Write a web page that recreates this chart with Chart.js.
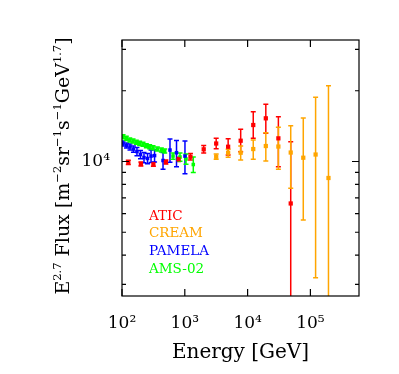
<!DOCTYPE html>
<html>
<head>
<meta charset="utf-8">
<script src="https://cdn.jsdelivr.net/npm/chart.js@4/dist/chart.umd.min.js"></script>
<style>
  html, body { margin: 0; padding: 0; background: #fff; }
  canvas { display: block; }
</style>
</head>
<body>
<canvas id="fluxChart" width="399" height="374"></canvas>
<script>
// energies in GeV, flux as E^2.7 * F, error bars as lower / upper bounds
const aticE  = [126, 200, 316, 500, 794, 1230, 2000, 3160, 4900, 7760, 12300, 19500, 30900, 48600];
const aticF  = [9920, 9760, 9740, 9950, 10220, 10480, 11270, 11930, 11560, 12260, 14300, 15270, 12550, 6630];
const aticLo = [9720, 9570, 9550, 9750, 10000, 10140, 10860, 11330, 10660, 11010, 12550, 13180, 9500, 1000];
const aticHi = [10120, 9960, 9940, 10150, 10440, 10830, 11690, 12560, 12500, 13710, 16290, 17520, 15510, 12140];

const creamE  = [3160, 4900, 7760, 12300, 19500, 30900, 48600, 77000, 121000, 194000];
const creamF  = [10480, 10900, 10900, 11300, 11640, 11580, 10920, 10380, 10710, 8510];
const creamLo = [10220, 10420, 10150, 10220, 10050, 9260, 7690, 5640, 3200, 1000];
const creamHi = [10760, 11270, 11640, 12350, 13260, 13980, 14200, 15310, 18760, 21020];

const pamelaE   = [104, 118, 134, 152, 173, 197, 224, 255, 290, 330, 450, 581, 738, 1006];
const pamelaF   = [11930, 11700, 11530, 11300, 11030, 10710, 10400, 10300, 10550, 10600, 10100, 11190, 10900, 10550];
const pamelaErr = [296, 290, 344, 337, 441, 428, 522, 517, 638, 641, 823, 1272, 1402, 1671];

const amsE   = [104, 117, 133, 150, 169, 191, 216, 244, 276, 312, 365, 423, 479, 649, 839, 1045, 1365];
const amsF   = [12750, 12550, 12350, 12230, 12070, 11950, 11840, 11670, 11560, 11450, 11300, 11190, 11080, 10550, 10450, 10250, 9710];
const amsErr = [250, 250, 245, 245, 240, 240, 235, 235, 230, 230, 225, 225, 220, 314, 418, 515, 738];

const xTickValues = [100, 1000, 10000, 100000];
const xTickLabels = ['10²', '10³', '10⁴', '10⁵'];
const yMajorTicks = [10000];
const yTickLabels = ['10⁴'];
const yMinorTicks = [3000, 4000, 5000, 6000, 7000, 8000, 9000, 20000, 30000];

function withBounds(e, f, lo, hi) {
    return e.map((v, i) => ({ x: v, y: f[i], lo: lo[i], hi: hi[i] }));
}
function withErr(e, f, err) {
    return e.map((v, i) => ({ x: v, y: f[i], lo: f[i] - err[i], hi: f[i] + err[i] }));
}

const serif = 'DejaVu Serif';

// vertical error bars with small caps, drawn under the markers
const errorBars = {
    id: 'errorBars',
    beforeDatasetsDraw(chart) {
        const { ctx, chartArea: a, scales: { x, y } } = chart;
        ctx.save();
        ctx.beginPath();
        ctx.rect(a.left, a.top, a.width, a.height);
        ctx.clip();
        chart.data.datasets.forEach(ds => {
            ctx.strokeStyle = ds.borderColor;
            ctx.lineWidth = 1.5;
            ds.data.forEach(p => {
                const px = x.getPixelForValue(p.x);
                const top = y.getPixelForValue(p.hi);
                const bot = y.getPixelForValue(p.lo);
                ctx.beginPath();
                ctx.moveTo(px, top); ctx.lineTo(px, bot);
                ctx.moveTo(px - 2.5, top); ctx.lineTo(px + 2.5, top);
                ctx.moveTo(px - 2.5, bot); ctx.lineTo(px + 2.5, bot);
                ctx.stroke();
            });
        });
        ctx.restore();
    }
};

// box, inward ticks, legend text and the y title with superscripts
const frame = {
    id: 'frame',
    afterDraw(chart) {
        const { ctx, chartArea: a, scales: { x, y } } = chart;
        ctx.save();
        ctx.strokeStyle = '#000';
        ctx.lineWidth = 1.2;
        ctx.strokeRect(a.left, a.top, a.width, a.height);
        ctx.beginPath();
        xTickValues.forEach(v => {
            const p = x.getPixelForValue(v);
            ctx.moveTo(p, a.bottom); ctx.lineTo(p, a.bottom - 7);
            ctx.moveTo(p, a.top); ctx.lineTo(p, a.top + 7);
        });
        yMajorTicks.forEach(v => {
            const p = y.getPixelForValue(v);
            ctx.moveTo(a.left, p); ctx.lineTo(a.left + 7, p);
            ctx.moveTo(a.right, p); ctx.lineTo(a.right - 7, p);
        });
        yMinorTicks.forEach(v => {
            const p = y.getPixelForValue(v);
            ctx.moveTo(a.left, p); ctx.lineTo(a.left + 4, p);
            ctx.moveTo(a.right, p); ctx.lineTo(a.right - 4, p);
        });
        ctx.stroke();

        // legend
        ctx.font = '13.5px "' + serif + '"';
        ctx.textBaseline = 'middle';
        ctx.textAlign = 'left';
        chart.data.datasets.forEach((ds, i) => {
            ctx.fillStyle = ds.borderColor;
            ctx.fillText(ds.label, a.left + 27, 216 + i * 17.8);
        });

        // y title
        const parts = [['E', 0], ['2.7', 1], [' Flux [m', 0], ['−2', 1], ['sr', 0], ['−1', 1],
                       ['s', 0], ['−1', 1], ['GeV', 0], ['1.7', 1], [']', 0]];
        const big = '19px "' + serif + '"', small = '11.5px "' + serif + '"';
        let total = 0;
        parts.forEach(([t, s]) => { ctx.font = s ? small : big; total += ctx.measureText(t).width; });
        ctx.translate(62, 166);
        ctx.rotate(-Math.PI / 2);
        ctx.fillStyle = '#000';
        ctx.textBaseline = 'alphabetic';
        let cx = -total / 2;
        parts.forEach(([t, s]) => {
            ctx.font = s ? small : big;
            ctx.fillText(t, cx, s ? -1 : 7);
            cx += ctx.measureText(t).width;
        });
        ctx.restore();
    }
};

function series(label, color, data, r) {
    return {
        label: label,
        data: data,
        borderColor: color,
        backgroundColor: color,
        pointStyle: 'rect',
        pointRadius: r,
        pointBorderWidth: 0,
        showLine: false
    };
}

const ctx = document.getElementById('fluxChart').getContext('2d');
new Chart(ctx, {
    type: 'scatter',
    data: {
        datasets: [
            series('ATIC', '#ff0000', withBounds(aticE, aticF, aticLo, aticHi), 3),
            series('CREAM', '#ffa500', withBounds(creamE, creamF, creamLo, creamHi), 3),
            series('PAMELA', '#0000ff', withErr(pamelaE, pamelaF, pamelaErr), 2.5),
            series('AMS-02', '#00ff00', withErr(amsE, amsF, amsErr), 2.5)
        ]
    },
    options: {
        responsive: false,
        animation: false,
        layout: { padding: { top: 40, right: 40, left: 0, bottom: 0 } },
        plugins: { legend: { display: false }, tooltip: { enabled: false } },
        scales: {
            x: {
                type: 'logarithmic',
                min: 100,
                max: 594000,
                grid: { display: false },
                border: { display: false },
                ticks: {
                    color: '#000',
                    font: { family: serif, size: 17 },
                    padding: 9,
                    maxRotation: 0,
                    callback: v => xTickLabels[xTickValues.indexOf(v)]
                },
                afterBuildTicks: s => { s.ticks = xTickValues.map(v => ({ value: v })); },
                afterFit: s => { s.height = 78; },
                title: {
                    display: true,
                    text: 'Energy [GeV]',
                    color: '#000',
                    font: { family: serif, size: 20 },
                    padding: { top: 0, bottom: 9 }
                }
            },
            y: {
                type: 'logarithmic',
                min: 2678,
                max: 32890,
                grid: { display: false },
                border: { display: false },
                ticks: {
                    color: '#000',
                    font: { family: serif, size: 17 },
                    padding: 4,
                    callback: v => yTickLabels[yMajorTicks.indexOf(v)]
                },
                afterBuildTicks: s => { s.ticks = yMajorTicks.map(v => ({ value: v })); },
                afterFit: s => { s.width = 122; }
            }
        }
    },
    plugins: [errorBars, frame]
});
</script>
</body>
</html>
